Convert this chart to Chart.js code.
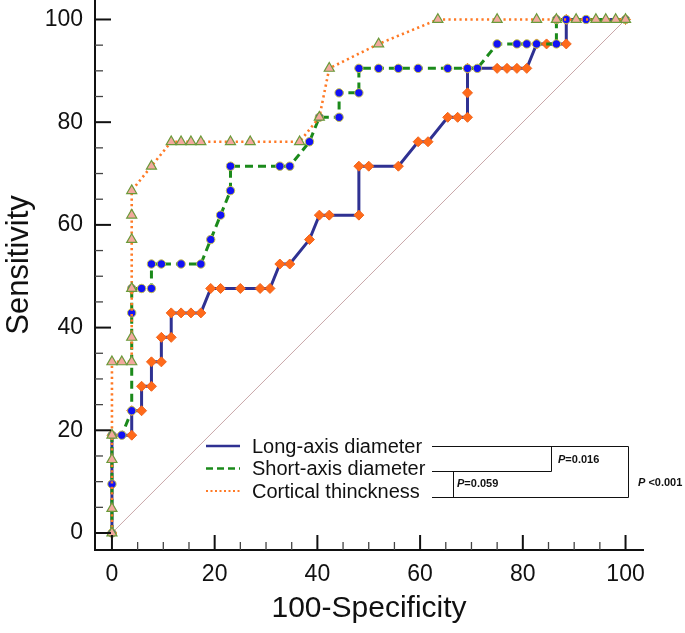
<!DOCTYPE html>
<html><head><meta charset="utf-8">
<script src="https://cdn.jsdelivr.net/npm/chart.js@4.4.1/dist/chart.umd.min.js"></script>
<style>html,body{margin:0;padding:0;background:#fff;overflow:hidden}</style>
</head><body>
<canvas id="c" width="685" height="633"></canvas>
<script>
// ---- data (100-Specificity, Sensitivity) ----
const seriesNames = ['Long-axis diameter', 'Short-axis diameter', 'Cortical thinckness'];
const longX = [0, 0, 3.85, 3.85, 5.77, 5.77, 7.69, 7.69, 9.62, 9.62, 11.54, 11.54, 13.46, 15.38, 17.31, 19.23, 21.15, 25.0, 28.85, 30.77, 32.69, 34.62, 38.46, 40.38, 42.31, 48.08, 48.08, 50.0, 55.77, 59.62, 61.54, 65.38, 67.31, 69.23, 69.23, 69.23, 75.0, 76.92, 78.85, 80.77, 82.69, 84.62, 88.46, 88.46, 100];
const longY = [0, 19.05, 19.05, 23.81, 23.81, 28.57, 28.57, 33.33, 33.33, 38.10, 38.10, 42.86, 42.86, 42.86, 42.86, 47.62, 47.62, 47.62, 47.62, 47.62, 52.38, 52.38, 57.14, 61.90, 61.90, 61.90, 71.43, 71.43, 71.43, 76.19, 76.19, 80.95, 80.95, 80.95, 85.71, 90.48, 90.48, 90.48, 90.48, 90.48, 95.24, 95.24, 95.24, 100, 100];
const shortX = [0, 0, 0, 1.92, 3.85, 3.85, 3.85, 5.77, 7.69, 7.69, 9.62, 13.46, 17.31, 19.23, 21.15, 23.08, 23.08, 32.69, 34.62, 38.46, 40.38, 44.23, 44.23, 48.08, 48.08, 51.92, 55.77, 59.62, 65.38, 69.23, 71.15, 75.0, 78.85, 80.77, 82.69, 86.54, 86.54, 88.46, 92.31, 100];
const shortY = [0, 9.52, 19.05, 19.05, 23.81, 42.86, 47.62, 47.62, 47.62, 52.38, 52.38, 52.38, 52.38, 57.14, 61.90, 66.67, 71.43, 71.43, 71.43, 76.19, 80.95, 80.95, 85.71, 85.71, 90.48, 90.48, 90.48, 90.48, 90.48, 90.48, 90.48, 95.24, 95.24, 95.24, 95.24, 95.24, 100, 100, 100, 100];
const cortX = [0, 0, 0, 0, 0, 1.92, 3.85, 3.85, 3.85, 3.85, 3.85, 3.85, 7.69, 11.54, 13.46, 15.38, 17.31, 23.08, 26.92, 36.54, 40.38, 42.31, 51.92, 63.46, 75.0, 82.69, 86.54, 90.38, 94.23, 96.15, 98.08, 100];
const cortY = [0, 4.76, 14.29, 19.05, 33.33, 33.33, 33.33, 38.10, 47.62, 57.14, 61.90, 66.67, 71.43, 76.19, 76.19, 76.19, 76.19, 76.19, 76.19, 76.19, 80.95, 90.48, 95.24, 100, 100, 100, 100, 100, 100, 100, 100, 100];
const refX = [0, 100];
const refY = [0, 100];
const tickValues = [0, 20, 40, 60, 80, 100];
const minorTickValues = [5, 10, 15, 25, 30, 35, 45, 50, 55, 65, 70, 75, 85, 90, 95];
const pLabels = ['=0.016', '=0.059', ' <0.001'];
const yTitle = 'Sensitivity';
const xTitle = '100-Specificity';

const toPts = (xs, ys) => xs.map((v, i) => ({x: v, y: ys[i]}));

const COL = {
  longLine: '#2f3192', longPt: '#ff6a1a',
  shortLine: '#1b8a1b', shortPt: '#1212f5', shortBorder: '#c9c24a',
  cortLine: '#ff7a26', cortPt: '#f3a89e', cortBorder: '#6a9a3a',
  ref: '#c9a7a9'
};
const FONT = '"Liberation Sans", Arial, sans-serif';

const axisDecor = {
  id: 'axisDecor',
  afterDraw(chart) {
    const {ctx, scales: {x, y}, chartArea: ca} = chart;
    ctx.save();
    // extend the y axis line up to the top edge
    ctx.strokeStyle = '#111';
    ctx.lineWidth = 2;
    ctx.beginPath(); ctx.moveTo(ca.left, 0); ctx.lineTo(ca.left, ca.top + 1); ctx.stroke();
    // inward ticks
    const drawTick = (v, len, w, isX) => {
      ctx.lineWidth = w;
      ctx.beginPath();
      if (isX) {
        const px = x.getPixelForValue(v);
        ctx.moveTo(px, ca.bottom); ctx.lineTo(px, ca.bottom - len);
      } else {
        const py = y.getPixelForValue(v);
        ctx.moveTo(ca.left, py); ctx.lineTo(ca.left + len, py);
      }
      ctx.stroke();
    };
    tickValues.forEach(v => { drawTick(v, 15, 2, true); drawTick(v, 16, 2, false); });
    ctx.strokeStyle = '#444';
    minorTickValues.forEach(v => { drawTick(v, 8, 1.3, true); drawTick(v, 8, 1.3, false); });

    // y title
    ctx.save();
    ctx.translate(19, 265);
    ctx.rotate(-Math.PI / 2);
    ctx.font = '31px ' + FONT;
    ctx.fillStyle = '#111';
    ctx.textAlign = 'center';
    ctx.textBaseline = 'middle';
    ctx.fillText(yTitle, 0, 0);
    ctx.restore();

    // legend
    const rows = [446, 468.5, 491];
    ctx.font = '20px ' + FONT;
    ctx.textBaseline = 'middle';
    ctx.fillStyle = '#111';
    const styles = [
      {c: COL.longLine, w: 2.5, d: []},
      {c: COL.shortLine, w: 2.5, d: [7, 4]},
      {c: COL.cortLine, w: 2, d: [2, 2.5]}
    ];
    seriesNames.forEach((n, i) => {
      ctx.save();
      ctx.strokeStyle = styles[i].c; ctx.lineWidth = styles[i].w; ctx.setLineDash(styles[i].d);
      ctx.beginPath(); ctx.moveTo(206, rows[i]); ctx.lineTo(240, rows[i]); ctx.stroke();
      ctx.restore();
      ctx.fillText(n, 252, rows[i] + 1);
    });

    // significance brackets
    ctx.strokeStyle = '#111'; ctx.lineWidth = 1; ctx.setLineDash([]);
    const seg = (a, b, c, d) => { ctx.beginPath(); ctx.moveTo(a, b); ctx.lineTo(c, d); ctx.stroke(); };
    seg(432, 446.5, 628.5, 446.5);
    seg(432, 471.5, 551.5, 471.5);
    seg(432, 497.5, 628.5, 497.5);
    seg(551.5, 446.5, 551.5, 471.5);
    seg(453.5, 471.5, 453.5, 497.5);
    seg(628.5, 446.5, 628.5, 497.5);

    const pText = (x0, y0, rest) => {
      ctx.font = 'italic bold 11px ' + FONT;
      ctx.fillText('P', x0, y0);
      const w = ctx.measureText('P').width;
      ctx.font = 'bold 11px ' + FONT;
      ctx.fillText(rest, x0 + w, y0);
    };
    pText(558, 460, pLabels[0]);
    pText(457, 484, pLabels[1]);
    pText(638, 483, pLabels[2]);
    ctx.restore();
  }
};

const fixScale = (w, h) => (s) => {
  if (w !== null) s.width = w;
  if (h !== null) s.height = h;
  s.paddingTop = 0; s.paddingBottom = 0; s.paddingLeft = 0; s.paddingRight = 0;
};

new Chart(document.getElementById('c'), {
  type: 'scatter',
  data: {
    datasets: [
      {
        label: seriesNames[2], data: toPts(cortX, cortY), showLine: true, order: 1,
        borderColor: COL.cortLine, borderWidth: 2.6, borderDash: [2.2, 3.3], borderCapStyle: 'butt',
        pointStyle: 'triangle', pointRadius: 5.8, pointBackgroundColor: COL.cortPt,
        pointBorderColor: COL.cortBorder, pointBorderWidth: 1.2, tension: 0
      },
      {
        label: seriesNames[1], data: toPts(shortX, shortY), showLine: true, order: 2,
        borderColor: COL.shortLine, borderWidth: 3, borderDash: [8, 5],
        pointStyle: 'circle', pointRadius: 4.2, pointBackgroundColor: COL.shortPt,
        pointBorderColor: COL.shortBorder, pointBorderWidth: 1, tension: 0
      },
      {
        label: seriesNames[0], data: toPts(longX, longY), showLine: true, order: 3,
        borderColor: COL.longLine, borderWidth: 3,
        pointStyle: 'rectRot', pointRadius: 5, pointBackgroundColor: COL.longPt,
        pointBorderColor: '#f0641c', pointBorderWidth: 1, tension: 0
      },
      {
        label: 'ref', data: toPts(refX, refY), showLine: true, order: 4,
        borderColor: COL.ref, borderWidth: 1, pointRadius: 0
      }
    ]
  },
  options: {
    responsive: false,
    animation: false,
    layout: {padding: {top: 2, right: 42, left: 0, bottom: 0}},
    plugins: {legend: {display: false}, tooltip: {enabled: false}},
    scales: {
      x: {
        type: 'linear', min: -3.3, max: 103.4,
        afterBuildTicks: s => { s.ticks = tickValues.map(v => ({value: v})); },
        afterFit: fixScale(null, 83),
        grid: {display: false, drawTicks: false},
        border: {display: true, color: '#111', width: 2},
        ticks: {padding: 11, color: '#111', font: {family: FONT, size: 23}},
        title: {display: true, text: xTitle, color: '#111', padding: {top: 0, bottom: 6},
          font: {family: FONT, size: 30}}
      },
      y: {
        type: 'linear', min: -3.31, max: 102.43,
        afterBuildTicks: s => { s.ticks = tickValues.map(v => ({value: v})); },
        afterFit: fixScale(95, null),
        grid: {display: false, drawTicks: false},
        border: {display: true, color: '#111', width: 2},
        ticks: {padding: 12, color: '#111', font: {family: FONT, size: 23}},
        title: {display: false}
      }
    }
  },
  plugins: [axisDecor]
});
</script>
</body></html>
